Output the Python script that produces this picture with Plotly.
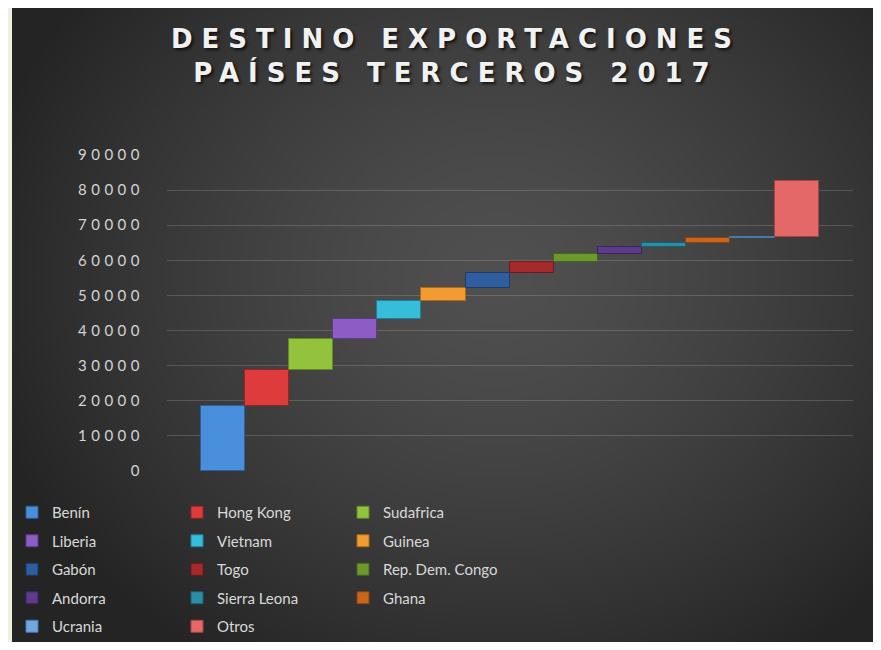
import base64
import struct
import zlib

import numpy as np
import plotly.graph_objects as go

# ---------------- data ----------------
paises = ["Benín", "Hong Kong", "Sudafrica", "Liberia", "Vietnam", "Guinea",
          "Gabón", "Togo", "Rep. Dem. Congo", "Andorra", "Sierra Leona",
          "Ghana", "Ucrania", "Otros"]
valores = [18500, 10300, 8700, 5900, 4900, 3900, 4300, 3150, 2050, 2000,
           1150, 1450, 300, 16100]
y_ticks = [0, 10000, 20000, 30000, 40000, 50000, 60000, 70000, 80000, 90000]
titulo = ["DESTINO EXPORTACIONES", "PAÍSES TERCEROS 2017"]

colores = ["#4a8fdb", "#de3c3c", "#93c23d", "#8d5cc4", "#36bdd9", "#f29b30",
           "#2e5e9f", "#a52a2a", "#6c982c", "#5d3b8c", "#2a8ea8", "#c9661c",
           "#72a6de", "#e46868"]
bordes = ["#2b5f9e", "#9c2222", "#5f8a22", "#5c3a88", "#1d8099", "#b06a14",
          "#1b3b68", "#6e1a1a", "#466620", "#3a2460", "#1a5f70", "#8a4210",
          "#4a78a8", "#a84444"]

# ---------------- background gradient image ----------------
def gradient_png(w=220, h=165):
    xs = np.linspace(0, 1, w)[None, :]
    ys = np.linspace(0, 1, h)[:, None]
    d = np.sqrt(((xs - 0.56) / 0.62) ** 2 + ((ys - 0.42) / 0.72) ** 2)
    d = np.clip(d, 0, 1)
    v = 80 - (80 - 36) * d ** 1.4
    img = np.repeat(v[:, :, None], 3, axis=2).astype(np.uint8)
    raw = b"".join(b"\x00" + img[r].tobytes() for r in range(h))

    def chunk(tag, data):
        c = struct.pack(">I", len(data)) + tag + data
        return c + struct.pack(">I", zlib.crc32(tag + data) & 0xffffffff)

    png = b"\x89PNG\r\n\x1a\n"
    png += chunk(b"IHDR", struct.pack(">IIBBBBB", w, h, 8, 2, 0, 0, 0))
    png += chunk(b"IDAT", zlib.compress(raw, 9))
    png += chunk(b"IEND", b"")
    return "data:image/png;base64," + base64.b64encode(png).decode()

# ---------------- geometry (page body has an 8px margin on every side) ----------------
OFF = 8
W, H = 881 - 2 * OFF, 650 - 2 * OFF
ML, MR, MT, MB = 167 - OFF, (881 - OFF) - 853, 155 - OFF, (650 - OFF) - 471
PW, PH = W - ML - MR, H - MT - MB


def px(sx):
    """screen x -> paper x"""
    return (sx - OFF - ML) / PW


def py(sy):
    """screen y -> paper y"""
    return (H - MB - (sy - OFF)) / PH


bases = np.concatenate([[0], np.cumsum(valores)[:-1]])

fig = go.Figure()
for i, (p, v) in enumerate(zip(paises, valores)):
    col = i % 3
    fig.add_trace(go.Bar(
        x=[i], y=[v], base=[bases[i]], width=1.0, name=p,
        marker=dict(color=colores[i], line=dict(color=bordes[i], width=1)),
        legend=["legend", "legend2", "legend3"][col],
        legendgroup=p,
    ))

leg_common = dict(
    orientation="v", traceorder="grouped", tracegroupgap=6,
    font=dict(family="Lato", size=15, color="#d9d9d9"),
    bgcolor="rgba(0,0,0,0)", itemwidth=30, xanchor="left", yanchor="top",
    y=py(496), itemclick=False, itemdoubleclick=False,
)

fig.update_layout(
    width=W, height=H,
    margin=dict(l=ML, r=MR, t=MT, b=MB, autoexpand=False),
    paper_bgcolor="#2a2a2a",
    plot_bgcolor="rgba(0,0,0,0)",
    barmode="overlay",
    bargap=0,
    title=dict(
        text="<br>".join('<span style="letter-spacing:9px">' + t + "</span>" for t in titulo),
        font=dict(family="DejaVu Sans", size=26, color="#f2f2f2", weight="bold",
                  shadow="2px 2px 3px rgba(0,0,0,0.7)"),
        x=(456 - OFF) / W, xref="container", xanchor="center",
        y=1 - 40 / H, yref="container", yanchor="top",
    ),
    xaxis=dict(range=[-1.26, 14.275], showgrid=False, zeroline=False,
               showticklabels=False, ticks="", fixedrange=True),
    yaxis=dict(range=[0, 90000], tickvals=y_ticks,
               ticktext=['<span style="letter-spacing:4.5px">' + str(t) + "</span>" for t in y_ticks],
               showgrid=True, gridcolor="rgba(255,255,255,0.16)", gridwidth=1,
               zeroline=False, ticks="", ticklabelstandoff=22,
               tickfont=dict(family="Lato", size=15, color="#d4d4d4"),
               fixedrange=True),
    legend=dict(x=px(12), **leg_common),
    legend2=dict(x=px(177), **leg_common),
    legend3=dict(x=px(343), **leg_common),
    images=[dict(
        source=gradient_png(), xref="paper", yref="paper",
        x=px(12), y=py(6), sizex=px(881) - px(12), sizey=py(6) - py(650),
        xanchor="left", yanchor="top", sizing="stretch", layer="below",
    )],
    shapes=[dict(
        type="rect", xref="paper", yref="paper", layer="below",
        x0=px(0), x1=px(12), y0=py(660), y1=py(-10),
        fillcolor="#eef0e4", line=dict(width=0),
    )],
)

fig.write_html("out.html")
